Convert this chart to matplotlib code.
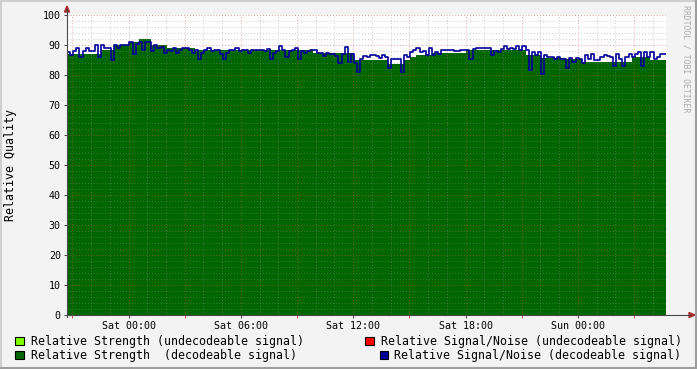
import numpy as np
import matplotlib
matplotlib.use("Agg")
import matplotlib.pyplot as plt
from matplotlib.lines import Line2D
from matplotlib.patches import Rectangle, Polygon

# ---------------- data ----------------
start_hour = -3.29          # hours relative to Sat 00:00
step_hours = 1.0 / 6.0      # 10-minute samples

strength_decodeable = [
    87, 87, 87, 87, 87, 87, 87, 87, 87, 87, 87, 88.5, 88.5, 88.5, 88.5, 90,
    90, 90, 90, 90, 91, 91, 91, 92, 92, 92, 92, 90, 90, 90, 90, 90,
    89, 89, 89, 89, 89, 89, 89, 89, 89, 88.3, 88.3, 88.3, 88.3, 88.3, 88.3, 88.3,
    88.3, 88.3, 88.3, 88.3, 88.3, 88.3, 88.3, 88.3, 88.3, 88.3, 88.3, 88.3, 88.3, 88.3, 88.3, 88.3,
    88.3, 88.3, 88.3, 88.3, 88.3, 88.3, 88.3, 88.3, 88.3, 88.3, 88.3, 88.3, 88.3, 88.3, 88.3, 87.3,
    87.3, 87.3, 87.3, 87.3, 87.3, 87.3, 87.3, 87.3, 87.3, 87.3, 87.3, 87.3, 85, 85, 85, 85,
    85, 85, 85, 85, 85, 85, 85, 83.8, 83.8, 83.8, 83.8, 83.8, 85, 85, 86.1, 86.1,
    86.7, 86.7, 86.7, 86.7, 86.7, 87.2, 87.2, 87.2, 87.2, 87.2, 87.2, 87.2, 87.2, 87.2, 87.2, 87.2,
    88.3, 88.3, 88.3, 88.3, 88.3, 88.3, 88.3, 88.3, 88.3, 88.3, 88.3, 88.3, 88.3, 88.3, 88.3, 88.3,
    88.3, 88.3, 88.3, 86.7, 86.7, 86.7, 86.7, 86.7, 85.6, 85.6, 85.6, 85.6, 85.6, 85.6, 85.6, 85.6,
    85.5, 85.5, 85.5, 85.5, 85.5, 84.4, 84.4, 84.4, 84.4, 84.4, 84.4, 84.4, 84.4, 84.4, 84.4, 84.4,
    84.4, 84.4, 84.4, 84.4, 84.4, 86.1, 86.1, 86.1, 86.1, 86.1, 86.1, 85, 85, 85, 85, 85,
]

snr_decodeable = [
    87.8, 86.7, 88, 88.9, 86.1, 88, 89, 88, 88, 90, 86, 90, 89, 89, 85, 90,
    89, 90, 90, 90, 91, 87, 90.5, 91, 88.5, 91, 91, 88, 90, 89, 89.5, 87.5,
    88.5, 88, 89, 87.5, 88.5, 89, 89, 88.5, 87.5, 88.5, 85.5, 87.5, 88.5, 89, 88, 88.5,
    88.5, 87, 85.5, 87.5, 88.5, 88.5, 89, 88, 88.5, 88.5, 87.5, 88.5, 88.5, 88.5, 88.5, 88,
    88.7, 85.3, 87.5, 88, 89.8, 88.5, 86, 88, 88.5, 89, 85.5, 88, 87.5, 88, 88.5, 88.5,
    87.5, 87.5, 86.5, 87.5, 87, 87, 86.5, 84, 87, 89.5, 84.5, 87, 84, 81, 85.3, 86.5,
    86, 86.7, 86.7, 86.3, 85.8, 86.7, 86.1, 82.5, 85.5, 85.5, 85.5, 81, 86.7, 86, 87.8, 88.5,
    88.9, 87.8, 88, 86.7, 88.9, 86.7, 87.8, 87, 88.3, 88.3, 88.3, 88.3, 88, 88, 88.3, 88.3,
    88.5, 85.5, 88.7, 88.9, 88.9, 88.9, 88.9, 88.9, 86.8, 88, 87.8, 88.7, 89.8, 88.7, 88.9, 88.7,
    89.8, 88.3, 89.8, 88.3, 81.7, 87.8, 86.7, 87.8, 80.5, 86.7, 86.1, 86.1, 85.5, 86.1, 85.3, 85.5,
    82.2, 85.8, 84.5, 85.8, 85.3, 83.9, 86.7, 85.3, 86.9, 85, 85, 86.1, 86.7, 86.5, 86.1, 83.1,
    86.9, 85.3, 83.1, 86.1, 86.9, 86.1, 86.9, 87.8, 83.1, 87.8, 86, 87.8, 85.3, 86.1, 86.9, 86.9,
]

x_tick_hours = [0, 6, 12, 18, 24]
x_tick_labels = ["Sat 00:00", "Sat 06:00", "Sat 12:00", "Sat 18:00", "Sun 00:00"]
y_ticks = [0, 10, 20, 30, 40, 50, 60, 70, 80, 90, 100]

legend_labels = [
    "Relative Strength (undecodeable signal)",
    "Relative Strength  (decodeable signal)",
    "Relative Signal/Noise (undecodeable signal)",
    "Relative Signal/Noise (decodeable signal)",
]
legend_colors = ["#80FF00", "#006600", "#FF0000", "#000099"]

# ---------------- figure ----------------
W, H = 697, 369
fig = plt.figure(figsize=(W / 100, H / 100), dpi=100, facecolor="#F3F3F3")
MONO = "DejaVu Sans Mono"


def fx(x):
    return x / W


def fy(y):
    return 1 - y / H


# 3D frame
fig.add_artist(Line2D([0, 1], [fy(1), fy(1)], color="#CFCFCF", lw=1.5, transform=fig.transFigure))
fig.add_artist(Line2D([fx(1), fx(1)], [0, 1], color="#CFCFCF", lw=1.5, transform=fig.transFigure))
fig.add_artist(Line2D([0, 1], [fy(368), fy(368)], color="#9E9E9E", lw=1.5, transform=fig.transFigure))
fig.add_artist(Line2D([fx(696), fx(696)], [0, 1], color="#9E9E9E", lw=1.5, transform=fig.transFigure))

L, R, T, B = 67, 666, 15, 315
ax = fig.add_axes([fx(L), fy(B), (R - L) / W, (B - T) / H])
ax.set_facecolor("white")
for s in ax.spines.values():
    s.set_visible(False)

n = len(strength_decodeable)
t = start_hour + np.arange(n + 1) * step_hours
g = np.append(strength_decodeable, strength_decodeable[-1])
b = np.append(snr_decodeable, snr_decodeable[-1])

ax.fill_between(t, g, 0, step="post", color="#006600", lw=0, zorder=2)

xmin, xmax = start_hour, start_hour + n * step_hours
ax.set_xlim(xmin, xmax)
ax.set_ylim(0, 100)

# grid on top (rrdtool style)
dot = (0, (1, 2))
for yv in range(2, 100, 2):
    if yv % 10:
        ax.axhline(yv, color="#8F8F8F", lw=0.7, ls=dot, alpha=0.45, zorder=3)
for yv in range(10, 101, 10):
    ax.axhline(yv, color="#DE5151", lw=0.7, ls=dot, alpha=0.55, zorder=3)
for h in range(-3, 29):
    if h % 3:
        ax.axvline(h, color="#8F8F8F", lw=0.7, ls=dot, alpha=0.45, zorder=3)
    else:
        ax.axvline(h, color="#DE5151", lw=0.7, ls=dot, alpha=0.5, zorder=3)

ax.step(t, b, where="post", color="#000099", lw=1.2, zorder=4)

ax.set_xticks(x_tick_hours)
ax.set_xticklabels(x_tick_labels, fontfamily=MONO, fontsize=7.2)
ax.set_yticks(y_ticks)
ax.set_yticklabels([str(v) for v in y_ticks], fontfamily=MONO, fontsize=7.2)
ax.tick_params(axis="x", length=2.5, width=0.7, color="#404040", pad=1.5)
ax.tick_params(axis="y", length=2.5, width=0.7, color="#404040", pad=2)
ax.set_xticks(range(-3, 29, 3), minor=True)
ax.tick_params(axis="x", which="minor", length=2, width=0.7, color="#DE5151")
ax.set_yticks([], minor=True)

# axes lines + arrows
axis_col = "#4A4A4A"
fig.add_artist(Line2D([fx(L), fx(L)], [fy(B + 2), fy(9)], color=axis_col, lw=0.8, transform=fig.transFigure))
fig.add_artist(Line2D([fx(L - 2), fx(690)], [fy(B), fy(B)], color=axis_col, lw=0.8, transform=fig.transFigure))
arrow_col = "#A52A2A"
fig.add_artist(Polygon([[fx(L - 2.5), fy(12)], [fx(L + 2.5), fy(12)], [fx(L), fy(6)]],
                       closed=True, color=arrow_col, transform=fig.transFigure))
fig.add_artist(Polygon([[fx(689), fy(B - 2.5)], [fx(689), fy(B + 2.5)], [fx(695), fy(B)]],
                       closed=True, color=arrow_col, transform=fig.transFigure))

# y label
fig.text(fx(11), fy(165), "Relative Quality", rotation=90, ha="center", va="center",
         fontfamily=MONO, fontsize=8.4, color="black")

# watermark
fig.text(fx(686), fy(59), "RRDTOOL / TOBI OETIKER", rotation=-90, ha="center", va="center",
         fontfamily=MONO, fontsize=5.9, color="#ABABAB")

# legend
box = 8.5
entries = [
    (15, 341, 30.7, legend_labels[0], legend_colors[0]),
    (15, 355, 30.7, legend_labels[1], legend_colors[1]),
    (365, 341, 380.7, legend_labels[2], legend_colors[2]),
    (379.5, 355, 394.3, legend_labels[3], legend_colors[3]),
]
for bx, cy, tx, lab, col in entries:
    fig.add_artist(Rectangle((fx(bx), fy(cy + box / 2)), box / W, box / H, facecolor=col,
                             edgecolor="black", lw=0.8, transform=fig.transFigure))
    fig.text(fx(tx), fy(cy), lab, ha="left", va="center", fontfamily=MONO, fontsize=8.4,
             color="black")

fig.savefig("out.png", dpi=100, facecolor=fig.get_facecolor())
